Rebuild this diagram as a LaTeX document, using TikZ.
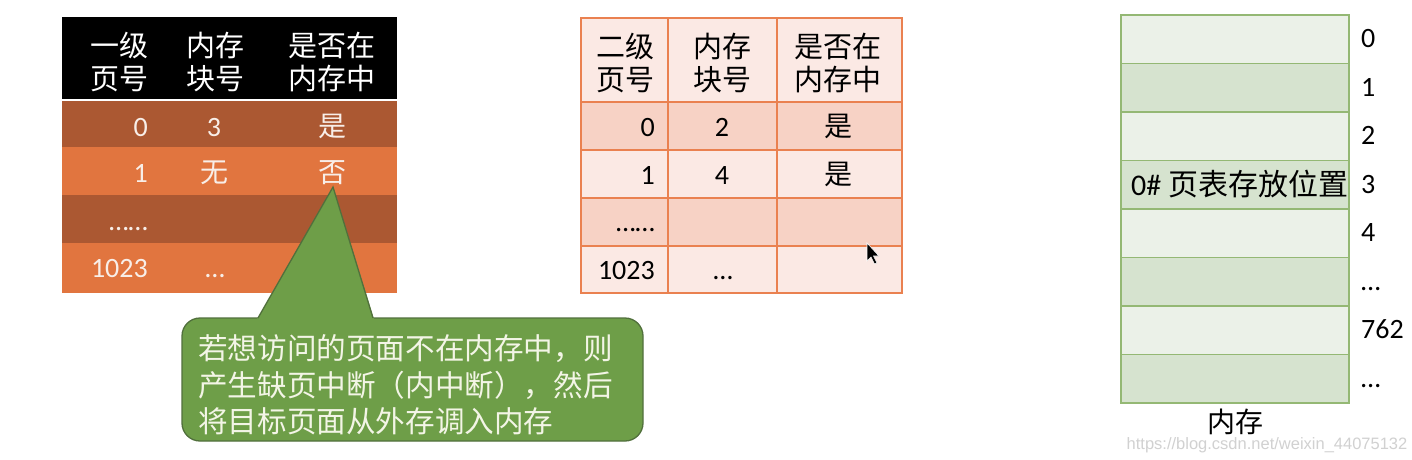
\documentclass[tikz,border=0pt]{standalone}
\usepackage{fontspec}
\setmainfont{Carlito}
\newfontfamily\cjk{Noto Sans CJK SC}
\newfontfamily\wmfont{Liberation Sans}
\definecolor{tdark}{HTML}{AB5832}
\definecolor{tlight}{HTML}{E1753F}
\definecolor{ttext}{HTML}{F8EEE8}
\definecolor{pline}{HTML}{EA8150}
\definecolor{pdark}{HTML}{F7D2C5}
\definecolor{plight}{HTML}{FBE9E4}
\definecolor{glight}{HTML}{EBF1E8}
\definecolor{gdark}{HTML}{D6E3CF}
\definecolor{gline}{HTML}{94B874}
\definecolor{cfill}{HTML}{6E9E48}
\definecolor{cline}{HTML}{51703C}
\definecolor{ctext}{HTML}{F3F5E6}
\tikzset{
  hd/.style={inner sep=0pt, align=center, font=\fontsize{29}{33}\selectfont\cjk},
  dat/.style={inner sep=0pt, font=\fontsize{28}{32}\selectfont},
  datc/.style={inner sep=0pt, font=\fontsize{28}{32}\selectfont\cjk},
  tcell/.style={draw=pline, line width=1.8pt},
  mcell/.style={draw=gline, line width=1.8pt},
}
\begin{document}
\begin{tikzpicture}[x=1pt,y=-1pt]
\useasboundingbox (0,0) rectangle (1412,459);
\fill[white] (0,0) rectangle (1412,459);

% ---------- Table 1 (first-level page table)
\fill[black] (62,17) rectangle (397,100);
\fill[tdark] (62,100) rectangle (397,147);
\fill[tlight] (62,147) rectangle (397,195);
\fill[tdark] (62,195) rectangle (397,243);
\fill[tlight] (62,243) rectangle (397,293);
\draw[white, line width=2.5pt] (62,100) -- (397,100);
\node[hd, text=white] (a11) at (119,62) {一级\\页号};
\node[hd, text=white] (a12) at (215,62) {内存\\块号};
\node[hd, text=white] (a13) at (332,62) {是否在\\内存中};
\node[dat, text=ttext, anchor=base east] (a21) at (148,136) {0};
\node[dat, text=ttext, anchor=base] (a22) at (214,136) {3};
\node[datc, text=ttext, anchor=base] (a23) at (332,136) {是};
\node[dat, text=ttext, anchor=base east] (a31) at (148,182) {1};
\node[datc, text=ttext, anchor=base] (a32) at (214,182) {无};
\node[datc, text=ttext, anchor=base] (a33) at (332,182) {否};
\node[dat, text=ttext, anchor=base east] (a41) at (148,230) {……};
\node[dat, text=ttext, anchor=base east] (a51) at (148,277) {1023};
\node[dat, text=ttext, anchor=base] (a52) at (215,277) {…};

% ---------- Table 2 (second-level page table)
\fill[plight] (581,18) rectangle (902,102);
\fill[pdark] (581,102) rectangle (902,150);
\fill[plight] (581,150) rectangle (902,198);
\fill[pdark] (581,198) rectangle (902,246);
\fill[plight] (581,246) rectangle (902,293);
\draw[tcell] (581,18) rectangle (902,293);
\foreach \yy in {102,150,198,246} \draw[tcell] (581,\yy) -- (902,\yy);
\foreach \xx in {668,777} \draw[tcell] (\xx,18) -- (\xx,293);
\node[hd] (b11) at (625,63) {二级\\页号};
\node[hd] (b12) at (722,63) {内存\\块号};
\node[hd] (b13) at (838,63) {是否在\\内存中};
\node[dat, anchor=base east] (b21) at (655,136) {0};
\node[dat, anchor=base] (b22) at (722,136) {2};
\node[datc, anchor=base] (b23) at (838,136) {是};
\node[dat, anchor=base east] (b31) at (655,184) {1};
\node[dat, anchor=base] (b32) at (722,184) {4};
\node[datc, anchor=base] (b33) at (838,184) {是};
\node[dat, anchor=base east] (b41) at (655,231) {……};
\node[dat, anchor=base east] (b51) at (655,279) {1023};
\node[dat, anchor=base] (b52) at (723,279) {…};

% mouse cursor
\filldraw[fill=black, draw=white, line width=0.6pt]
  (867,243) -- (867,261) -- (871,257) -- (874.5,264) -- (877,263) -- (873.5,256) -- (879,256) -- cycle;

% ---------- Memory
\foreach \i in {0,...,7} {
  \pgfmathsetmacro{\ya}{15+48.5*\i}
  \pgfmathsetmacro{\yb}{15+48.5*(\i+1)}
  \pgfmathparse{mod(\i,2)==0 ? 1 : 0}
  \ifnum\pgfmathresult=1
    \fill[glight] (1121,\ya) rectangle (1349,\yb);
  \else
    \fill[gdark] (1121,\ya) rectangle (1349,\yb);
  \fi
}
\draw[mcell] (1121,15) rectangle (1349,403);
\foreach \i in {1,...,7} \draw[mcell] (1121,15+48.5*\i) -- (1349,15+48.5*\i);
\node[dat, anchor=base west] (m0) at (1361,47.5) {0};
\node[dat, anchor=base west] (m1) at (1361,96) {1};
\node[dat, anchor=base west] (m2) at (1361,144.5) {2};
\node[dat, anchor=base west] (m3) at (1361,193) {3};
\node[dat, anchor=base west] (m4) at (1361,241.5) {4};
\node[dat, anchor=base west] (m5) at (1361,290) {…};
\node[dat, anchor=base west] (m6) at (1361,338.5) {762};
\node[dat, anchor=base west] (m7) at (1361,387) {…};
\node[inner sep=0pt, anchor=base west, font=\fontsize{30}{33}\selectfont] (pt0) at (1131,195) {0\# {\cjk 页表存放位置}};
\node[datc] (mem) at (1235,422) {内存};
\node[inner sep=0pt, font=\fontsize{16.5}{18}\selectfont\wmfont, text=black!18] (wm) at (1267,445) {https://blog.csdn.net/weixin\_44075132};

% ---------- Callout
\fill[cfill, rounded corners=18pt] (182,318) rectangle (643,441);
\draw[cline, line width=1.3pt, rounded corners=18pt] (182,318) rectangle (643,441);
\fill[cfill] (257,319.2) -- (333,187) -- (374,319.2) -- cycle;
\draw[cline, line width=1.3pt] (258,318) -- (333,187) -- (373,318);
\node[inner sep=0pt, anchor=west, align=left, text=ctext, font=\fontsize{29.6}{36.5}\selectfont\cjk] (note) at (198,385)
  {若想访问的页面不在内存中，则\\产生缺页中断（内中断），然后\\将目标页面从外存调入内存};
\end{tikzpicture}
\end{document}
